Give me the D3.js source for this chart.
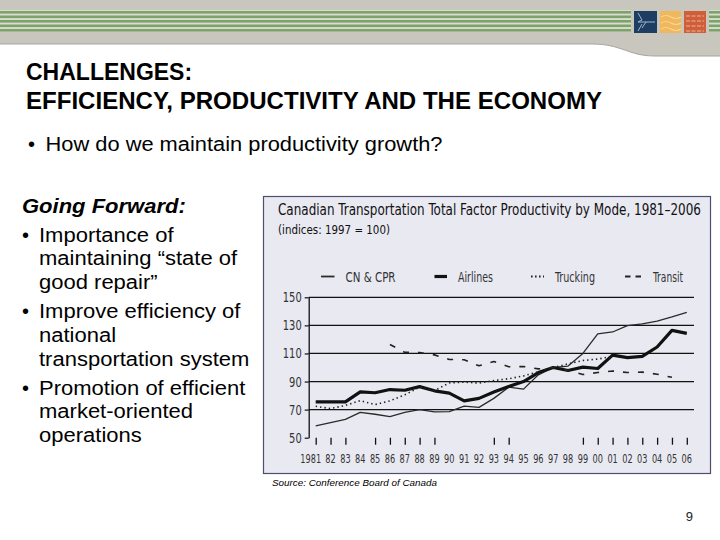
<!DOCTYPE html>
<html>
<head>
<meta charset="utf-8">
<script src="https://cdn.jsdelivr.net/npm/d3@7"></script>
<style>
  html, body { margin: 0; padding: 0; background: #fff; }
  svg { display: block; }
</style>
</head>
<body>
<script>
// data (indices: 1997 = 100)
const years = [1981, 1982, 1983, 1984, 1985, 1986, 1987, 1988, 1989, 1990, 1991, 1992, 1993,
  1994, 1995, 1996, 1997, 1998, 1999, 2000, 2001, 2002, 2003, 2004, 2005, 2006]
const yearLabels = ['1981', '82', '83', '84', '85', '86', '87', '88', '89', '90', '91', '92', '93',
  '94', '95', '96', '97', '98', '99', '00', '01', '02', '03', '04', '05', '06']
const tickYears = [1981, 1982, 1983, 1985, 1986, 1987, 1988, 1989, 1993, 1994,
  1999, 2000, 2001, 2002, 2003, 2004, 2005, 2006]
const yTicks = [50, 70, 90, 110, 130, 150]

const cnCpr = [58.4, 60.7, 63, 68, 66.7, 65, 68, 70, 68.4, 68.6, 72.5, 71.6, 78, 86, 84.6, 94.8,
  100, 101, 110, 124, 125.3, 129.8, 131, 133, 136, 139.3]
const airlines = [75.5, 75.5, 75.5, 82.6, 82, 84.3, 83.8, 86.4, 83.4, 81.7, 76.2, 78, 82.6, 86.4,
  90, 96.4, 100, 97.9, 100.3, 99.3, 108.8, 107, 107.9, 114.6, 126.4, 124.3]
const trucking = [72.4, 70.7, 73, 76.4, 73.6, 76.2, 80.5, 86, 83.6, 89, 89.6, 88.9, 90.7, 92, 94,
  97, 100, 102.6, 105, 106, 108, null, null, null, null, null]
const transit = [null, null, null, null, null, 116.4, 110.8, 110.6, 109, 105.7, 105.5, 101.2, 104.3,
  100.5, 100.7, 99, 100, 98, 95, 96.4, 97.5, 96.4, 96.7, 95.2, 93, null]

const seriesNames = ['CN & CPR', 'Airlines', 'Trucking', 'Transit']
const seriesValues = [cnCpr, airlines, trucking, transit]

const width = 720
const height = 540
const narrow = '"Liberation Sans Narrow", "DejaVu Sans Condensed", "Liberation Sans", sans-serif'
const sans = '"Liberation Sans", Arial, sans-serif'

const styles = {
  'CN & CPR': { w: 1.3, dash: null, color: '#2a2a2a' },
  Airlines: { w: 3.2, dash: null, color: '#111' },
  Trucking: { w: 1.6, dash: '1.4,3', color: '#222' },
  Transit: { w: 1.6, dash: '6,9', color: '#222' }
}

// squeeze / stretch a text to a given width (the original uses a condensed face)
const fitTo = (sel, w) =>
  sel.attr('textLength', w).attr('lengthAdjust', 'spacingAndGlyphs')
const stretch = (sel, k) =>
  sel.each(function () {
    const n = this.getComputedTextLength()
    d3.select(this).attr('textLength', n * k).attr('lengthAdjust', 'spacingAndGlyphs')
  })

const svg = d3.select('body').append('svg').attr('width', width).attr('height', height)

// header band
svg.append('path')
  .attr('d', 'M0,0 H720 V56 H655 C628,56 622,44 592,44 H0 Z')
  .attr('fill', '#c9c6bd')
svg.append('path')
  .attr('d', 'M0,44 H592 C622,44 628,56 655,56 H720')
  .attr('fill', 'none')
  .attr('stroke', '#a9a69f')
  .attr('stroke-width', 1)

const stripeY = [11, 15.5, 20, 24.5, 29]
const stripes = svg.append('g')
stripes.append('rect').attr('x', 0).attr('y', 10).attr('width', 720).attr('height', 22).attr('fill', '#d9ddd0')
stripes.selectAll('rect.s')
  .data(stripeY)
  .join('rect')
  .attr('class', 's')
  .attr('x', 0)
  .attr('y', (d) => d)
  .attr('width', 720)
  .attr('height', 2.6)
  .attr('fill', '#7da36a')

// logo
const logo = svg.append('g')
logo.append('rect').attr('x', 631).attr('y', 9).attr('width', 78).attr('height', 26).attr('fill', '#c9c6bd')
logo.append('rect').attr('x', 634).attr('y', 11).attr('width', 23).attr('height', 22).attr('fill', '#1e3d63')
logo.append('path')
  .attr('d', 'M638,13 L642,20 L638,22 L655,22 M642,24 L638,31 M646,22 L642,28')
  .attr('stroke', '#9fb6cf').attr('stroke-width', 1).attr('fill', 'none')
logo.append('rect').attr('x', 660).attr('y', 11).attr('width', 21).attr('height', 22).attr('fill', '#f0b75c')
logo.append('path')
  .attr('d', 'M661,17 q5,-3 10,0 t10,0 M661,23 q5,-3 10,0 t10,0 M661,29 q5,-3 10,0 t10,0')
  .attr('stroke', '#f7d89a').attr('stroke-width', 1.2).attr('fill', 'none')
logo.append('rect').attr('x', 684).attr('y', 11).attr('width', 22).attr('height', 22).attr('fill', '#cf5f38')
logo.append('path')
  .attr('d', 'M686,16 H704 M686,21 H704 M686,26 H704 M686,31 H704')
  .attr('stroke', '#eeb49a').attr('stroke-width', 1).attr('stroke-dasharray', '4,1.5').attr('fill', 'none')

// slide title
const title = svg.append('g').attr('font-family', sans).attr('font-weight', 'bold').attr('font-size', 23).attr('fill', '#000')
title.append('text').attr('x', 26).attr('y', 80).text('CHALLENGES:')
fitTo(title.append('text').attr('x', 26).attr('y', 109).text('EFFICIENCY, PRODUCTIVITY AND THE ECONOMY'), 576)

const q = svg.append('g').attr('font-family', sans).attr('font-size', 20).attr('fill', '#000')
q.append('text').attr('x', 28).attr('y', 151).text('•')
fitTo(q.append('text').attr('x', 45.5).attr('y', 151).text('How do we maintain productivity growth?'), 397)

// left text block
const left = svg.append('g').attr('font-family', sans).attr('font-size', 20).attr('fill', '#000')
stretch(left.append('text').attr('x', 22).attr('y', 213).attr('font-weight', 'bold').attr('font-style', 'italic').text('Going Forward:'), 1.1)
const leftLines = [
  [true, 'Importance of', 242],
  [false, 'maintaining “state of', 265],
  [false, 'good repair”', 289],
  [true, 'Improve efficiency of', 318],
  [false, 'national', 342],
  [false, 'transportation system', 366],
  [true, 'Promotion of efficient', 395],
  [false, 'market-oriented', 418],
  [false, 'operations', 442]
]
leftLines.forEach(([bullet, t, y]) => {
  if (bullet) left.append('text').attr('x', 22).attr('y', y).text('•')
  stretch(left.append('text').attr('x', 39).attr('y', y).text(t), 1.1)
})

// chart box
svg.append('rect')
  .attr('x', 263.5).attr('y', 196.5).attr('width', 447).attr('height', 277)
  .attr('fill', '#e9e9f2').attr('stroke', '#4e4e6e').attr('stroke-width', 1.2)

const chart = svg.append('g')
fitTo(chart.append('text')
  .attr('x', 278).attr('y', 215)
  .attr('font-family', narrow).attr('font-size', 15.5).attr('fill', '#111')
  .text('Canadian Transportation Total Factor Productivity by Mode, 1981–2006'), 423)
fitTo(chart.append('text')
  .attr('x', 278).attr('y', 234)
  .attr('font-family', narrow).attr('font-size', 12.5).attr('fill', '#111')
  .text('(indices: 1997 = 100)'), 112)

const x = d3.scaleLinear().domain([1981, 2006]).range([315.7, 686.8])
const y = d3.scaleLinear().domain([50, 150]).range([437.7, 297.3])

// gridlines
chart.append('g')
  .selectAll('line')
  .data(yTicks.filter((d) => d > 50))
  .join('line')
  .attr('x1', 308.7).attr('x2', 694)
  .attr('y1', (d) => y(d)).attr('y2', (d) => y(d))
  .attr('stroke', '#111').attr('stroke-width', 1.2)

// y axis
const yAxis = chart.append('g')
  .attr('transform', 'translate(308.7,0)')
  .call(d3.axisLeft(y).tickValues(yTicks).tickSize(4).tickSizeOuter(0))
yAxis.select('.domain').attr('stroke', '#111').attr('stroke-width', 1.3)
yAxis.selectAll('.tick line').attr('stroke', '#111').attr('stroke-width', 1.2)
yAxis.selectAll('.tick text')
  .attr('font-family', narrow).attr('font-size', 14).attr('fill', '#333').attr('x', -7)
  .each(function (d) {
    fitTo(d3.select(this), String(d).length * 6.3)
  })

// x ticks (only the ones that show on the original)
const xAxis = chart.append('g')
  .attr('transform', `translate(0,${y(50)})`)
  .call(d3.axisBottom(x).tickValues(tickYears).tickSize(7).tickFormat(''))
xAxis.select('.domain').remove()
xAxis.selectAll('.tick line').attr('stroke', '#111').attr('stroke-width', 1.3)

chart.append('g')
  .selectAll('text')
  .data(years)
  .join('text')
  .attr('x', (d) => x(d) - (d === 1981 ? 5 : 0))
  .attr('y', 463)
  .attr('text-anchor', 'middle')
  .attr('font-family', narrow).attr('font-size', 13).attr('fill', '#333')
  .text((d, i) => yearLabels[i])
  .attr('textLength', (d, i) => yearLabels[i].length * 5.2)
  .attr('lengthAdjust', 'spacingAndGlyphs')

// series lines
const line = d3.line()
  .defined((d) => d.v != null)
  .x((d) => x(d.year))
  .y((d) => y(d.v))

seriesNames.forEach((name, k) => {
  const st = styles[name]
  const pts = years.map((yr, i) => ({ year: yr, v: seriesValues[k][i] }))
  chart.append('path')
    .datum(pts)
    .attr('d', line)
    .attr('fill', 'none')
    .attr('stroke', st.color)
    .attr('stroke-width', st.w)
    .attr('stroke-dasharray', st.dash)
    .attr('stroke-linejoin', 'round')
})

// legend
const legendX = [321, 434.5, 531, 625]
const legendW = [13.5, 12.5, 13, 17]
const legendTextW = [50, 35, 40, 30]
const legend = chart.append('g')
seriesNames.forEach((name, k) => {
  const st = styles[name]
  legend.append('line')
    .attr('x1', legendX[k]).attr('x2', legendX[k] + legendW[k])
    .attr('y1', 276.5).attr('y2', 276.5)
    .attr('stroke', st.color)
    .attr('stroke-width', name === 'Airlines' ? 3.2 : 1.8)
    .attr('stroke-dasharray', name === 'Transit' ? '5.5,5' : name === 'Trucking' ? '1.6,2.4' : null)
  fitTo(legend.append('text')
    .attr('x', legendX[k] + legendW[k] + 11)
    .attr('y', 281.5)
    .attr('font-family', narrow).attr('font-size', 14).attr('fill', '#333')
    .text(name), legendTextW[k])
})

fitTo(svg.append('text')
  .attr('x', 272).attr('y', 486)
  .attr('font-family', sans).attr('font-size', 9.8).attr('font-style', 'italic').attr('fill', '#000')
  .text('Source: Conference Board of Canada'), 165)

svg.append('text')
  .attr('x', 693).attr('y', 521).attr('text-anchor', 'end')
  .attr('font-family', sans).attr('font-size', 13).attr('fill', '#222')
  .text('9')
</script>
</body>
</html>
